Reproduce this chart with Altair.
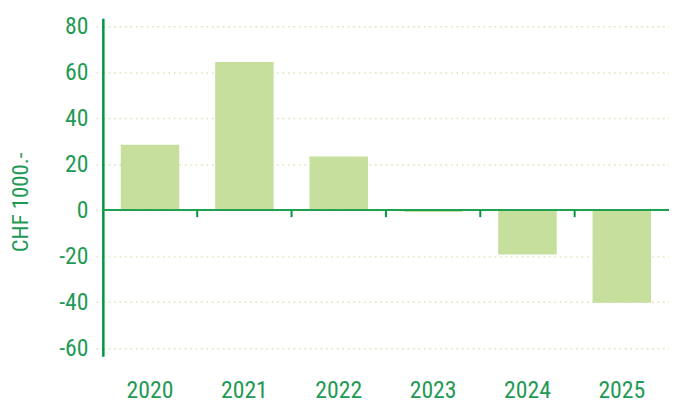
import altair as alt
import pandas as pd

years = ["2020", "2021", "2022", "2023", "2024", "2025"]
values = [28.5, 64.4, 23.3, -0.8, -19.2, -40.2]
tick_years = ["2021", "2022", "2023", "2024", "2025"]
y_ticks = [-60, -40, -20, 0, 20, 40, 60, 80]

FONT = "Liberation Sans Narrow, Roboto Condensed, Arial Narrow, Liberation Sans, sans-serif"
TEXT = "#1f9a55"
AXIS = "#00963f"
BAR = "#c6df9c"
GRID = "#d2e5aa"

df = pd.DataFrame({"year": years, "value": values})
ticks_df = pd.DataFrame({"year": tick_years})

xscale = alt.Scale(domain=years, paddingInner=0, paddingOuter=0)
yscale = alt.Scale(domain=[-63.4, 83.4], nice=False, zero=False)

bars = alt.Chart(df).mark_bar(color=BAR, width=alt.RelativeBandSize(0.62)).encode(
    x=alt.X("year:N", scale=xscale, sort=years, title=None,
            axis=alt.Axis(domain=False, ticks=False, labelAngle=0, labelPadding=23,
                          labelFont=FONT, labelFontSize=24, labelColor=TEXT,
                          labelBaseline="top")),
    y=alt.Y("value:Q", scale=yscale, title="CHF 1000.-",
            axis=alt.Axis(values=y_ticks, domainColor=AXIS, domainWidth=2.5,
                          grid=True, gridColor=GRID, gridDash=[1.5, 4], gridWidth=1.5,
                          ticks=True, tickColor=GRID, tickDash=[1.5, 4], tickWidth=1.5,
                          tickSize=8, labelPadding=7,
                          labelExpr="datum.value < 0 ? '-' + abs(datum.value) : '' + datum.value",
                          labelFont=FONT, labelFontSize=24, labelColor=TEXT,
                          titleFont=FONT, titleFontSize=23, titleColor=TEXT,
                          titleFontWeight="normal", titleAngle=270,
                          titleX=-83, titleY=186, titleAlign="center",
                          titleBaseline="middle")),
)

zero = alt.Chart(df).mark_rule(color="#1fa050", strokeWidth=1.5).encode(
    y=alt.datum(0)
)

band_ticks = alt.Chart(ticks_df).mark_rule(color=AXIS, strokeWidth=2).encode(
    x=alt.X("year:N", scale=xscale, bandPosition=0),
    y=alt.datum(0),
    y2=alt.datum(-3),
)

chart = alt.layer(bars, zero, band_ticks).properties(
    width=573, height=342,
    autosize=alt.AutoSizeParams(type="none"),
    padding={"left": 96, "top": 8, "right": 0, "bottom": 45},
).configure_view(stroke=None)

chart.save("out.html", embed_options={"renderer": "svg", "actions": False})
